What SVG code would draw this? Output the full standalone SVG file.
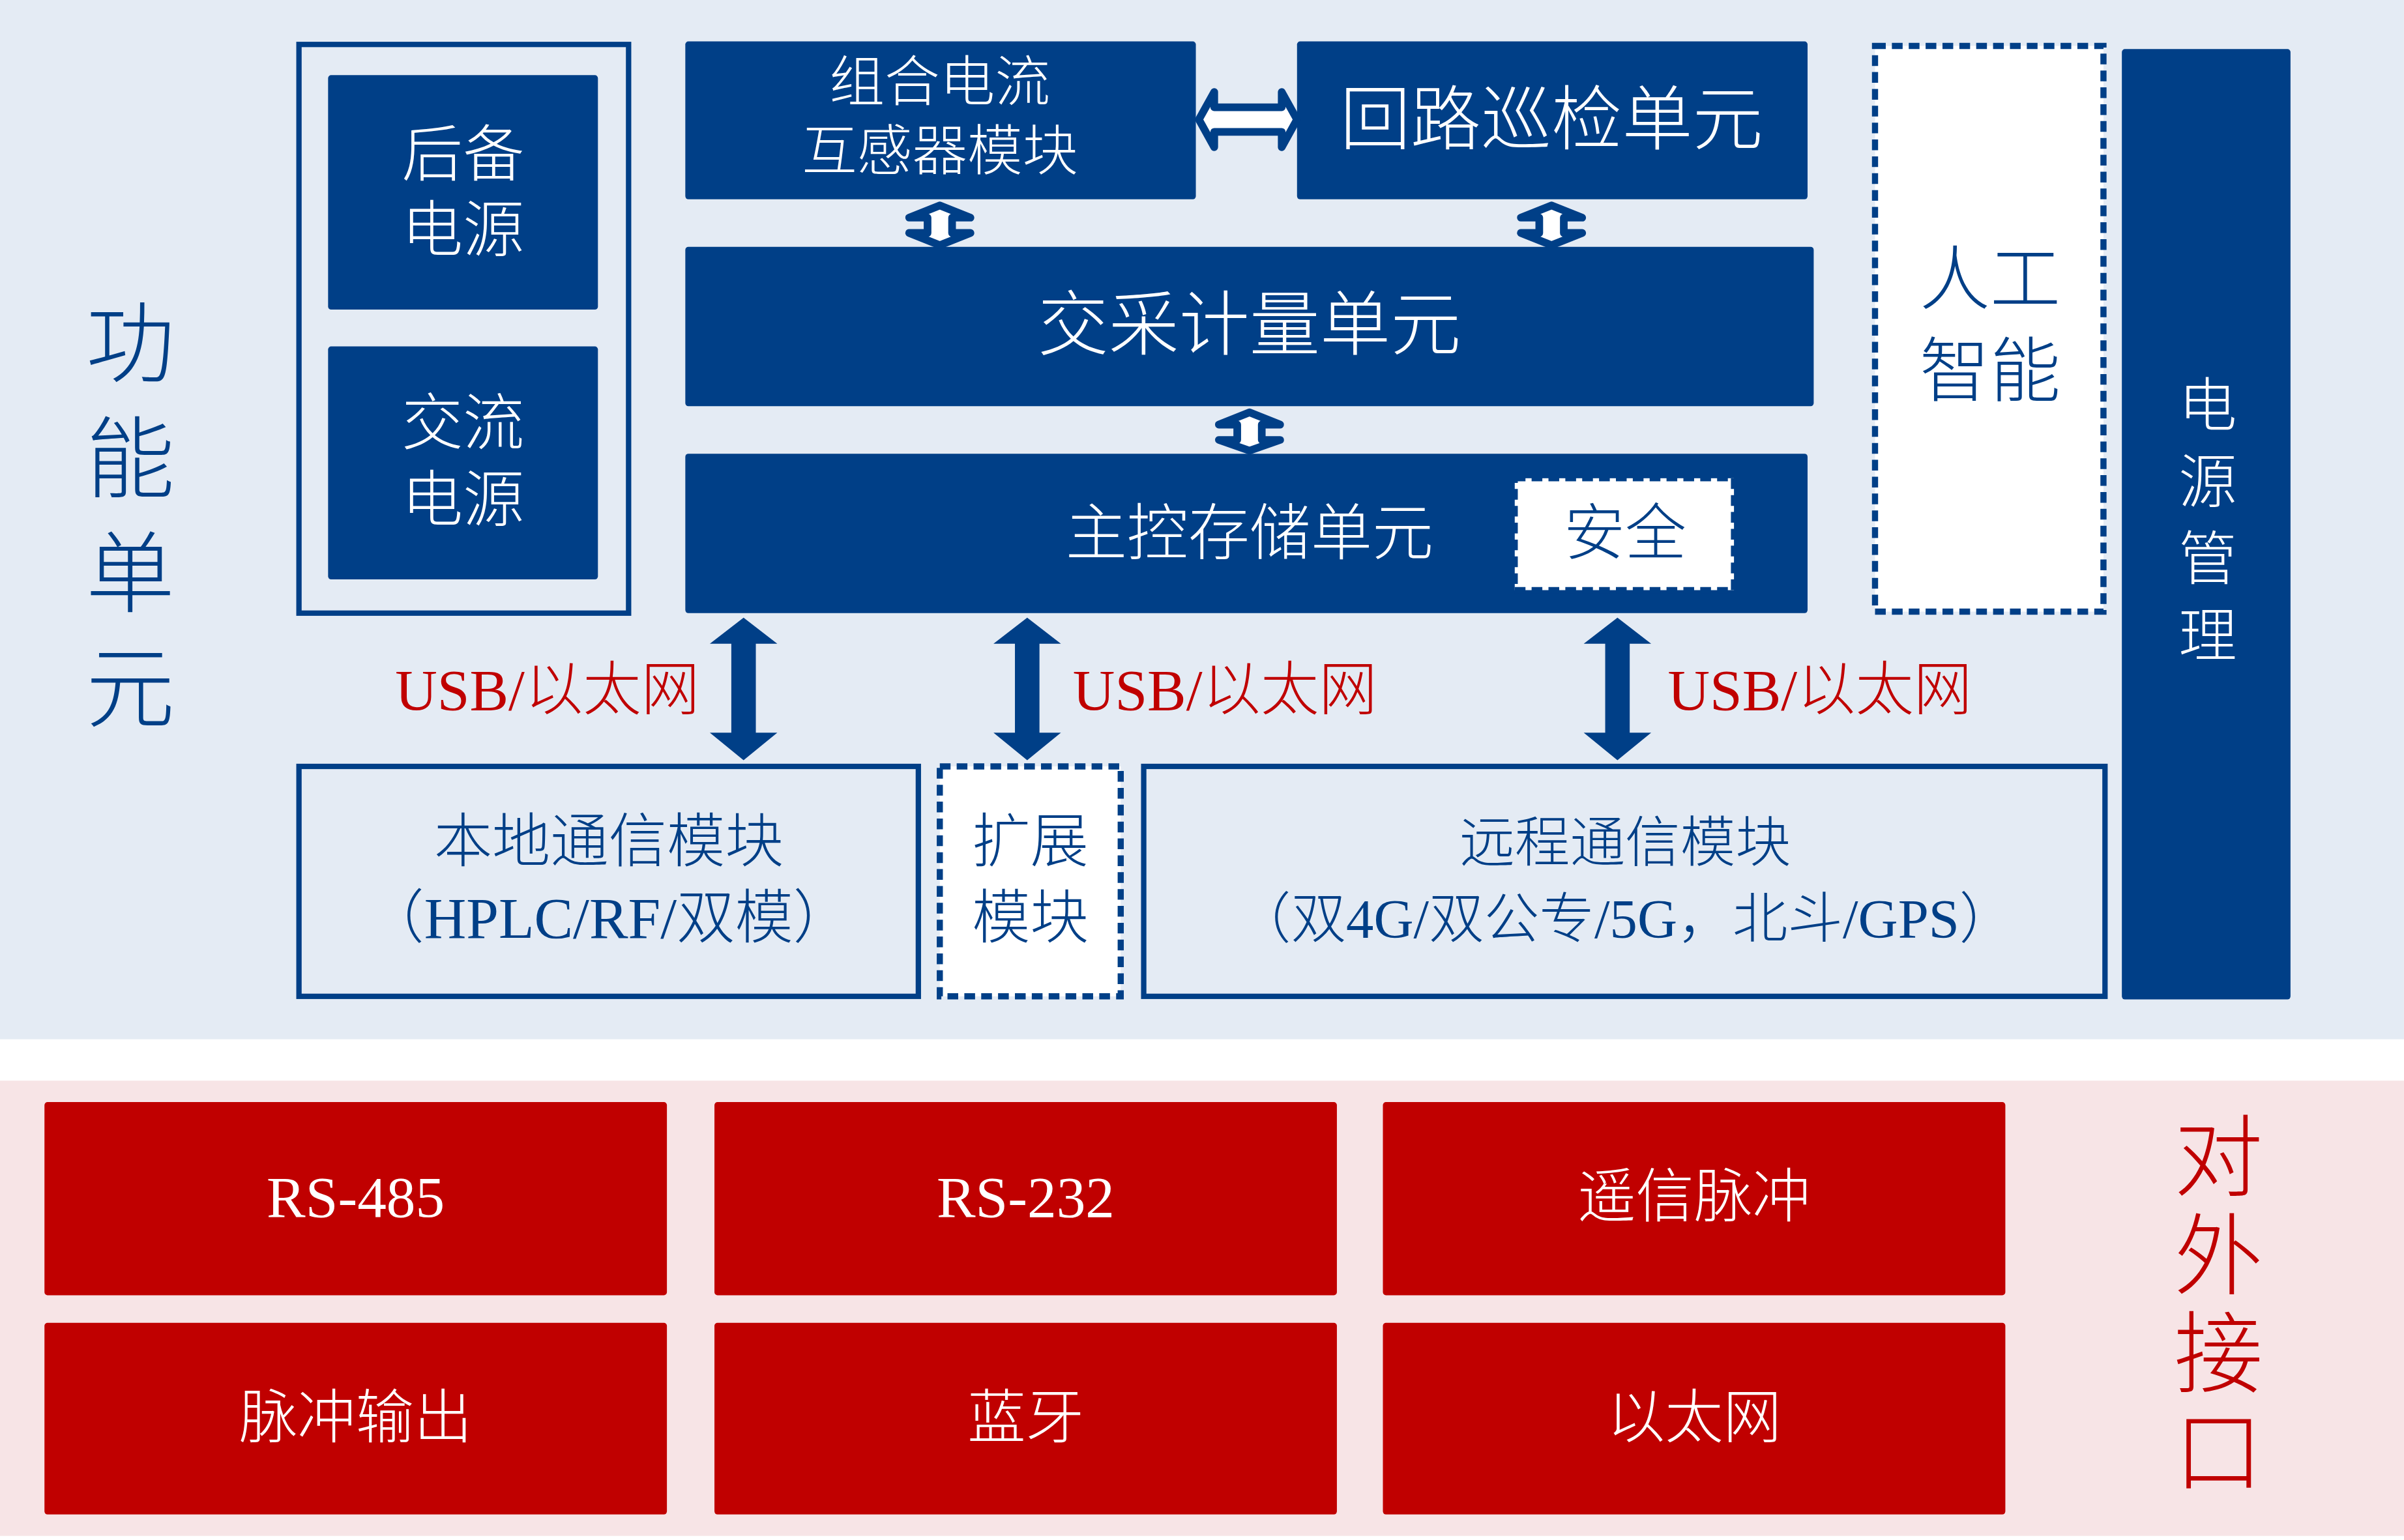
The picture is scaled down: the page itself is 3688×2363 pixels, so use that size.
<svg xmlns="http://www.w3.org/2000/svg" width="3688" height="2363" viewBox="0 0 3688 2363">
<style>
.n{fill:#003f87}
.o{fill:none;stroke:#003f87;stroke-width:3.5}
.d{fill:#fff;stroke:#003f87;stroke-width:4;stroke-dasharray:7 4}
.r{fill:#c00000}
text{font-family:"Liberation Serif","Noto Sans CJK SC",serif;text-anchor:middle;font-weight:300}
.w{fill:#fff}
.b{fill:#003f87}
.t{fill:#c00000}
</style>
<g transform="scale(2.352)">
<rect x="0" y="0" width="1568" height="678" fill="#e4ebf4"/>
<rect x="0" y="705" width="1568" height="297" fill="#f7e4e6"/>
<g id="title1"><text class="b" font-size="58" x="85" y="245">功</text><text class="b" font-size="58" x="85" y="320">能</text><text class="b" font-size="58" x="85" y="395">单</text><text class="b" font-size="58" x="85" y="470">元</text></g>
<g id="power"><rect class="o" x="195" y="29" width="215" height="371"/></g>
<g id="backup"><rect class="n" x="214" y="49" width="176" height="153" rx="2"/><text class="w" font-size="40" x="302" y="115">后备</text><text class="w" font-size="40" x="302" y="164">电源</text></g>
<g id="ac"><rect class="n" x="214" y="226" width="176" height="152" rx="2"/><text class="w" font-size="40" x="302" y="290">交流</text><text class="w" font-size="40" x="302" y="340">电源</text></g>
<g id="ct"><rect class="n" x="447" y="27" width="333" height="103" rx="2"/><text class="w" font-size="36" x="613" y="66">组合电流</text><text class="w" font-size="36" x="613" y="111">互感器模块</text></g>
<g id="loop"><rect class="n" x="846" y="27" width="333" height="103" rx="2"/><text class="w" font-size="46" x="1012" y="94">回路巡检单元</text></g>
<g id="meter"><rect class="n" x="447" y="161" width="736" height="104" rx="2"/><text class="w" font-size="46" x="815" y="228">交采计量单元</text></g>
<g id="main"><rect class="n" x="447" y="296" width="732" height="104" rx="2"/><text class="w" font-size="40" x="815" y="362">主控存储单元</text></g>
<g id="sec"><rect class="d" x="988" y="312" width="143" height="73"/><text class="b" font-size="40" x="1060" y="362">安全</text></g>
<g id="ai"><rect class="d" x="1223" y="30" width="149" height="369"/><text class="b" font-size="46" x="1298" y="198">人工</text><text class="b" font-size="46" x="1298" y="258">智能</text></g>
<g id="pm"><rect class="n" x="1384" y="32" width="110" height="620" rx="2"/><text class="w" font-size="38" x="1440" y="278">电</text><text class="w" font-size="38" x="1440" y="328">源</text><text class="w" font-size="38" x="1440" y="378">管</text><text class="w" font-size="38" x="1440" y="428">理</text></g>
<g id="local"><rect class="o" x="195" y="500" width="404" height="150" fill="#e4ebf4"/><text class="b" font-size="38" x="397" y="562">本地通信模块</text><text class="b" font-size="38" x="397" y="612">（HPLC/RF/双模）</text></g>
<g id="ext"><rect class="d" x="613" y="500" width="118" height="150"/><text class="b" font-size="38" x="672" y="562">扩展</text><text class="b" font-size="38" x="672" y="612">模块</text></g>
<g id="remote"><rect class="o" x="746" y="500" width="627" height="150"/><text class="b" font-size="36" x="1060" y="562">远程通信模块</text><text class="b" font-size="36" x="1060" y="612">（双4G/双公专/5G，北斗/GPS）</text></g>
<g id="connectors">
<path d="M782 78 L792 60 L792 70 L836 70 L836 60 L846 78 L836 96 L836 86 L792 86 L792 96 Z" fill="#fff" stroke="#003f87" stroke-width="5" stroke-linejoin="round"/>
<g fill="#fff" stroke="#003f87" stroke-width="5" stroke-linejoin="round">
<path d="M613 134 L633 142 L621 142 L621 152 L633 152 L613 160 L593 152 L605 152 L605 142 L593 142 Z"/>
<path d="M1012 134 L1032 142 L1020 142 L1020 152 L1032 152 L1012 160 L992 152 L1004 152 L1004 142 L992 142 Z"/>
<path d="M815 269 L835 277 L823 277 L823 287 L835 287 L815 294 L795 287 L807 287 L807 277 L795 277 Z"/>
</g>
<g fill="#003f87">
<path d="M485 403 L507 420 L493 420 L493 478 L507 478 L485 496 L463 478 L477 478 L477 420 L463 420 Z"/>
<path d="M670 403 L692 420 L678 420 L678 478 L692 478 L670 496 L648 478 L662 478 L662 420 L648 420 Z"/>
<path d="M1055 403 L1077 420 L1063 420 L1063 478 L1077 478 L1055 496 L1033 478 L1047 478 L1047 420 L1033 420 Z"/>
</g>
<text class="t" font-size="38" x="357" y="463">USB/以太网</text>
<text class="t" font-size="38" x="799" y="463">USB/以太网</text>
<text class="t" font-size="38" x="1187" y="463">USB/以太网</text>
</g>
<g id="rs485"><rect class="r" x="29" y="719" width="406" height="126" rx="2"/><text class="w" font-size="38" x="232" y="794">RS-485</text></g>
<g id="rs232"><rect class="r" x="466" y="719" width="406" height="126" rx="2"/><text class="w" font-size="38" x="669" y="794">RS-232</text></g>
<g id="yx"><rect class="r" x="902" y="719" width="406" height="126" rx="2"/><text class="w" font-size="38" x="1105" y="794">遥信脉冲</text></g>
<g id="pulse"><rect class="r" x="29" y="863" width="406" height="125" rx="2"/><text class="w" font-size="38" x="232" y="938">脉冲输出</text></g>
<g id="bt"><rect class="r" x="466" y="863" width="406" height="125" rx="2"/><text class="w" font-size="38" x="669" y="938">蓝牙</text></g>
<g id="eth"><rect class="r" x="902" y="863" width="406" height="125" rx="2"/><text class="w" font-size="38" x="1105" y="938">以太网</text></g>
<g id="title2"><text class="t" font-size="58" x="1447" y="776">对</text><text class="t" font-size="58" x="1447" y="840">外</text><text class="t" font-size="58" x="1447" y="904">接</text><text class="t" font-size="58" x="1447" y="968">口</text></g>
</g>
</svg>
